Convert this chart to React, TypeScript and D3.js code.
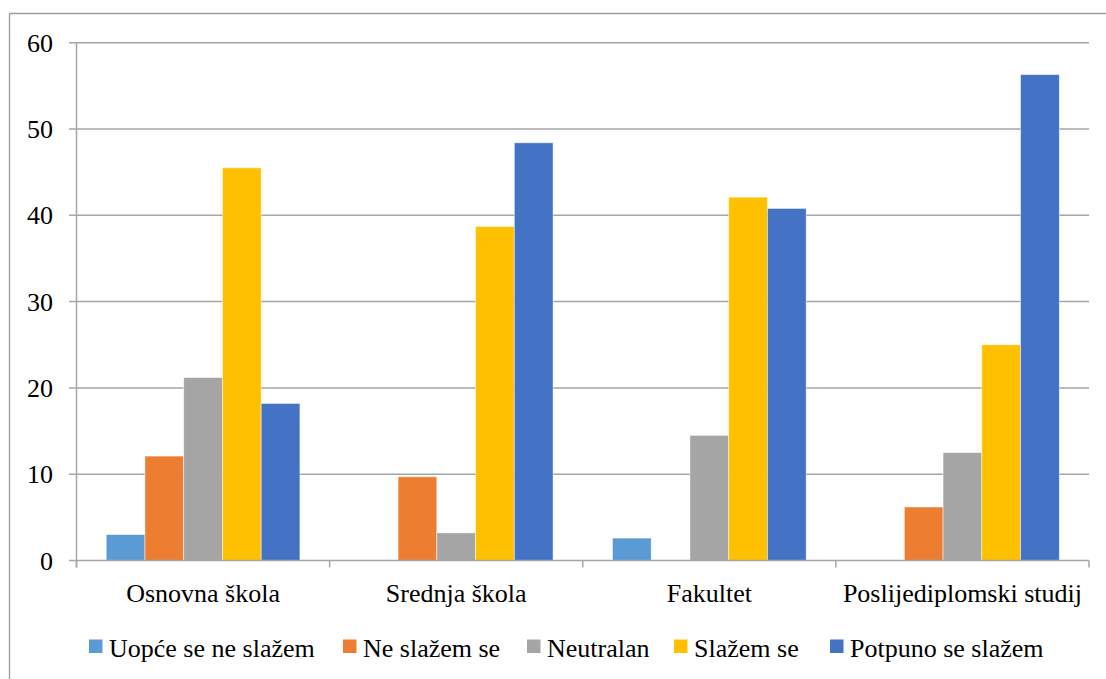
import React from "react";
import * as d3 from "d3";

const categories = ["Osnovna škola", "Srednja škola", "Fakultet", "Poslijediplomski studij"];
const seriesNames = ["Uopće se ne slažem", "Ne slažem se", "Neutralan", "Slažem se", "Potpuno se slažem"];
const uopce = [3.0, 0, 2.6, 0];
const neSlazem = [12.1, 9.7, 0, 6.2];
const neutralan = [21.2, 3.2, 14.5, 12.5];
const slazem = [45.5, 38.7, 42.1, 25.0];
const potpuno = [18.2, 48.4, 40.8, 56.3];
const seriesValues = [uopce, neSlazem, neutralan, slazem, potpuno];
const colors = ["#5B9BD5", "#ED7D31", "#A5A5A5", "#FFC000", "#4472C4"];
const yTicks = [0, 10, 20, 30, 40, 50, 60];
const legendX = [89, 343, 527, 674, 830];

export default function App() {
  const W = 1106, H = 679;
  const left = 76.5, right = 1089, top = 42.7, bottom = 560.5;
  const x0 = d3.scaleBand<string>().domain(categories).range([left, right]).paddingInner(0).paddingOuter(0);
  const bw = x0.bandwidth();
  const pad = 29.7;
  const x1 = d3.scaleBand<string>().domain(seriesNames).range([pad, bw - pad]).padding(0);
  const y = d3.scaleLinear().domain([0, 60]).range([bottom, top]);
  const font = "'Liberation Serif', 'Times New Roman', serif";
  const grid = "#A6A6A6";
  const catTicks = [...categories.map((c) => x0(c)!), right];
  return (
    <svg width={W} height={H} style={{ position: "absolute", left: 0, top: 0, background: "#fff" }}>
      <rect x={0} y={0} width={W} height={H} fill="#fff" />
      <line x1={9.5} y1={13.5} x2={W} y2={13.5} stroke="#9a9a9a" strokeWidth={1.3} />
      <line x1={9.5} y1={13.5} x2={9.5} y2={H} stroke="#9a9a9a" strokeWidth={1.3} />
      {yTicks.map((t) => (
        <g key={t}>
          {t > 0 && <line x1={69} x2={right} y1={y(t)} y2={y(t)} stroke={grid} strokeWidth={1.5} />}
          <text x={53} y={y(t)} dy="0.35em" textAnchor="end" fontFamily={font} fontSize={26} fill="#000">{t}</text>
        </g>
      ))}
      {seriesNames.map((s, si) =>
        categories.map((c, ci) => {
          const v = seriesValues[si][ci];
          if (!v) return null;
          return (
            <rect key={s + c} x={x0(c)! + x1(s)!} y={y(v)} width={x1.bandwidth()} height={y(0) - y(v)}
              fill={colors[si]} stroke="#fff" strokeOpacity={0.6} strokeWidth={0.8} />
          );
        })
      )}
      <line x1={69} x2={right} y1={bottom} y2={bottom} stroke={grid} strokeWidth={1.5} />
      <line x1={left} x2={left} y1={top} y2={bottom + 7} stroke={grid} strokeWidth={1.5} />
      {catTicks.map((xx, i) => (
        <line key={i} x1={xx} x2={xx} y1={bottom} y2={bottom + 7} stroke={grid} strokeWidth={1.5} />
      ))}
      {categories.map((c) => (
        <text key={c} x={x0(c)! + bw / 2} y={601.5} textAnchor="middle" fontFamily={font} fontSize={26} fill="#000">{c}</text>
      ))}
      {seriesNames.map((s, i) => (
        <g key={s}>
          <rect x={legendX[i]} y={639.5} width={13.5} height={13.5} fill={colors[i]} />
          <text x={legendX[i] + 20} y={657} fontFamily={font} fontSize={26} fill="#000">{s}</text>
        </g>
      ))}
    </svg>
  );
}
